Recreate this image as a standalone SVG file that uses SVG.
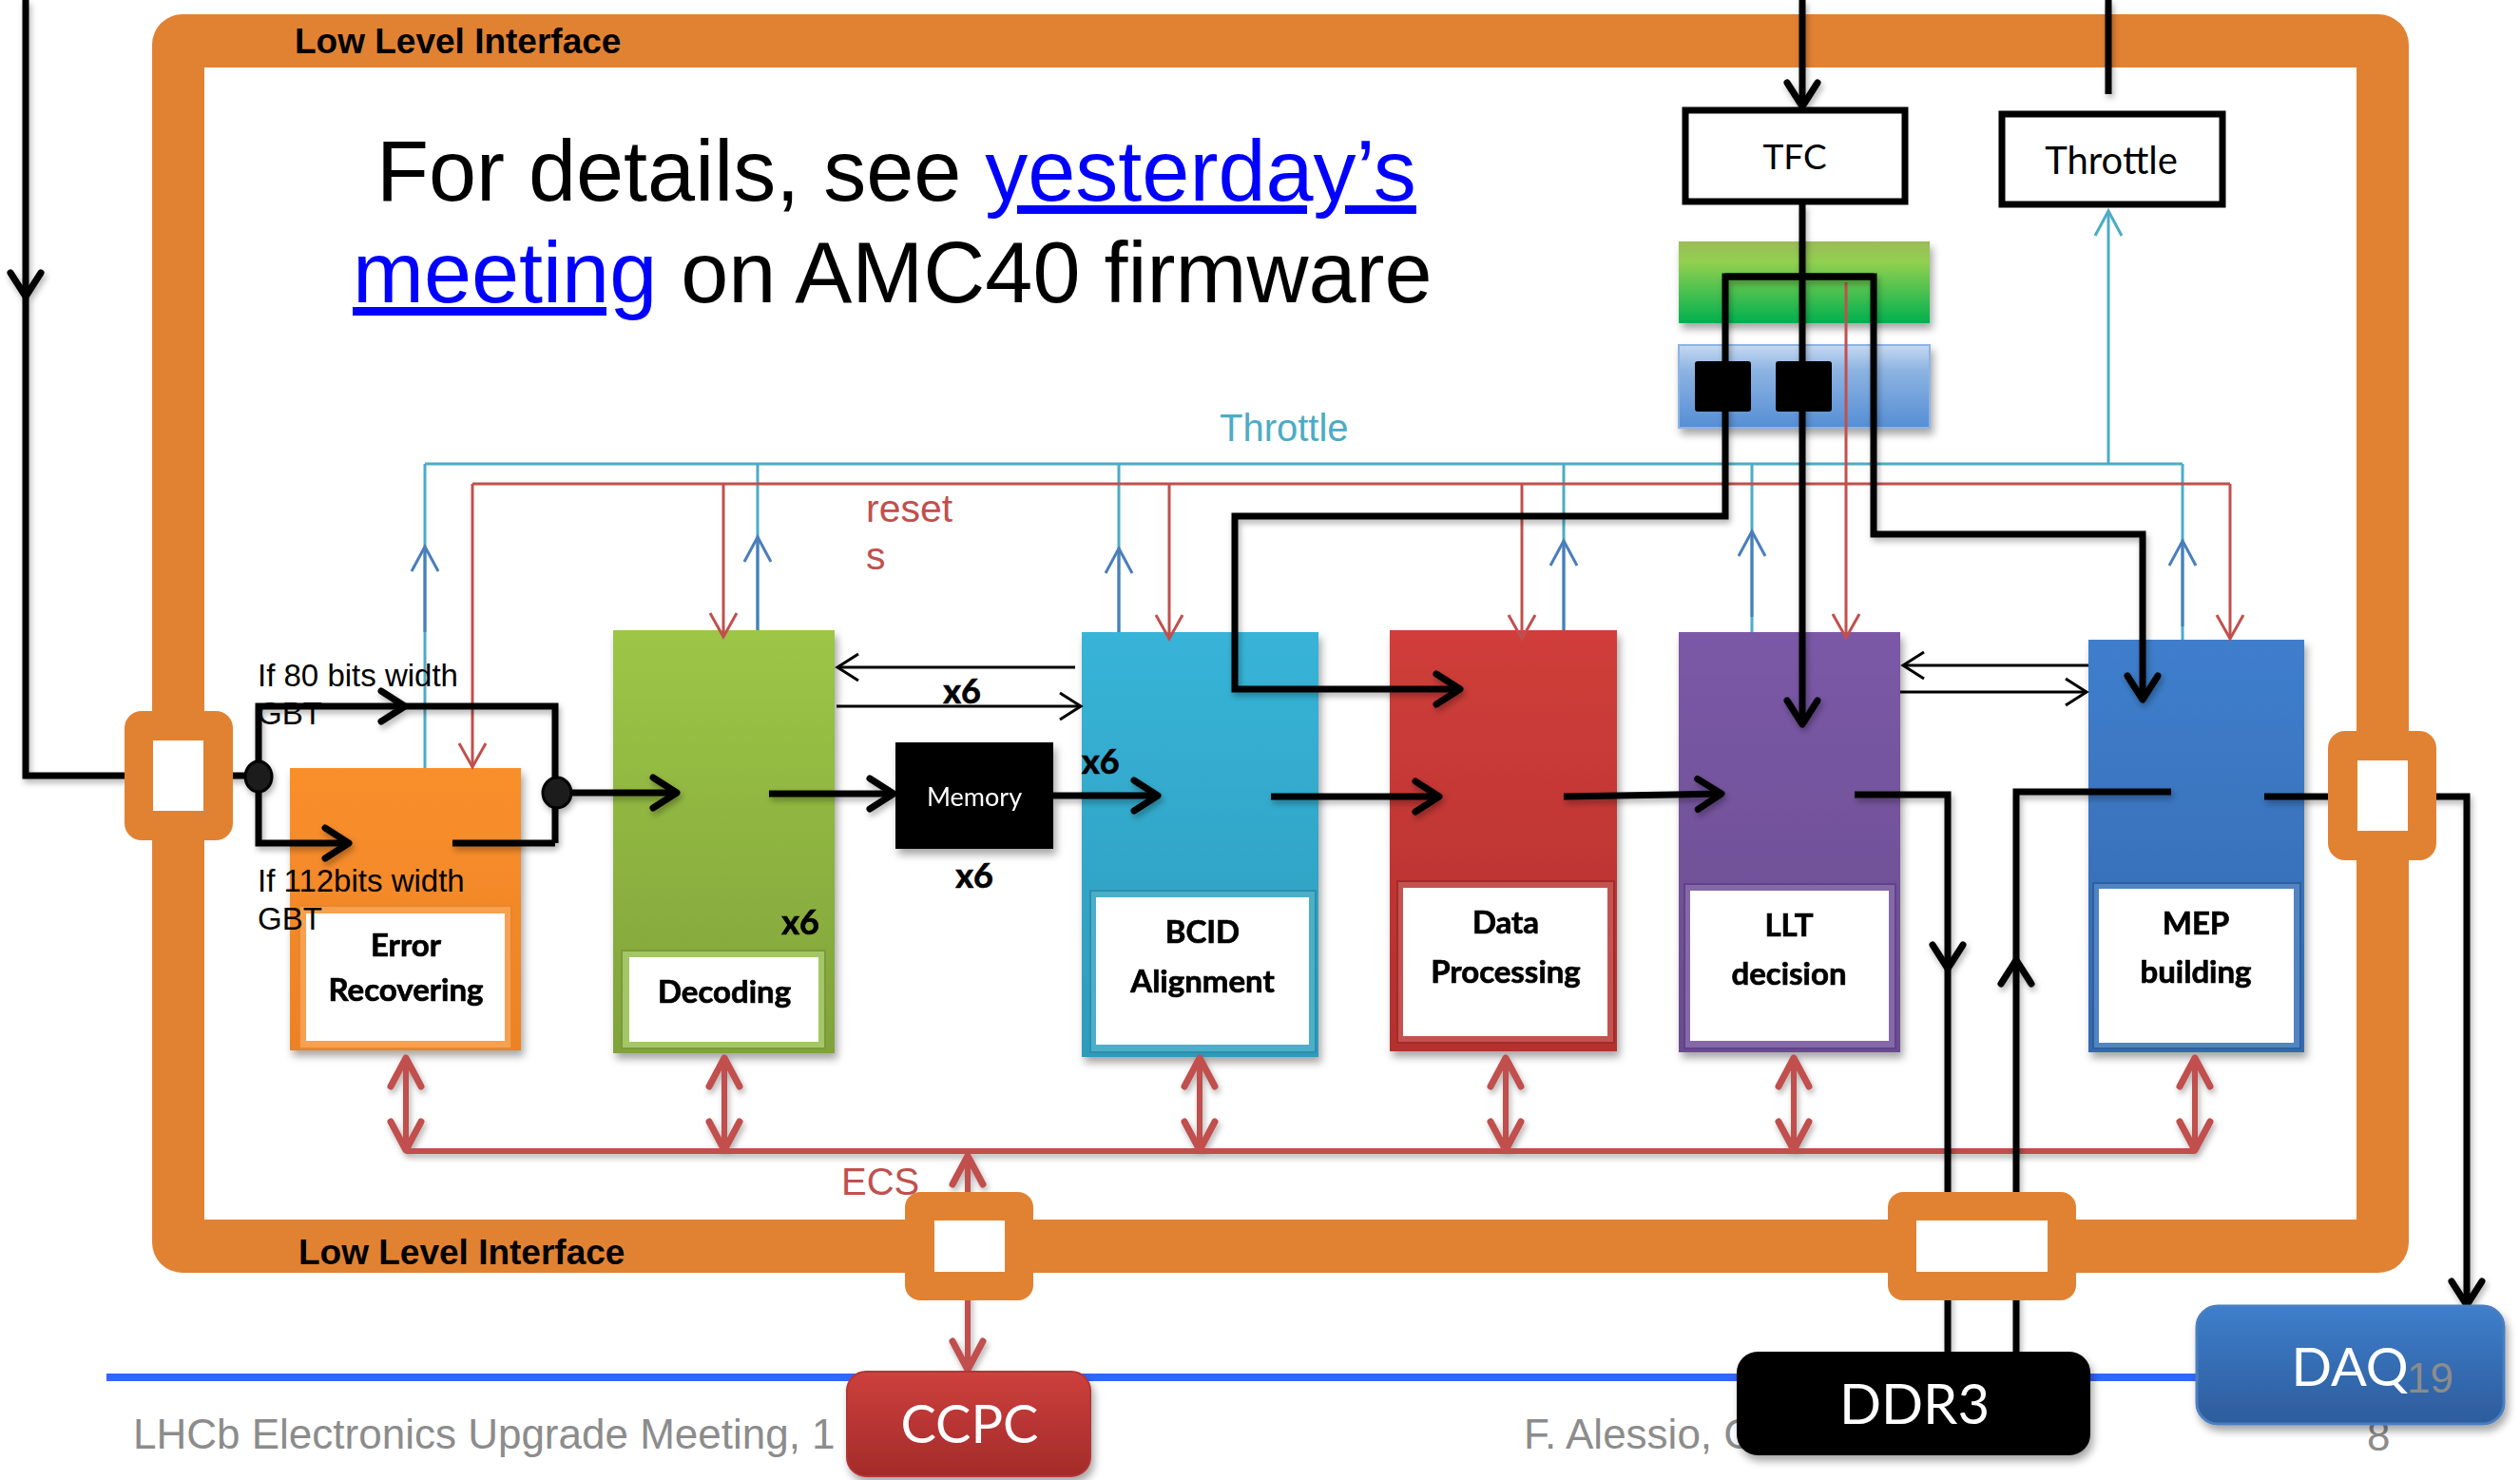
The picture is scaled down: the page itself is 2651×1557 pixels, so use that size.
<svg xmlns="http://www.w3.org/2000/svg" width="2651" height="1557" viewBox="0 0 2651 1557">
  <style>
    .arial { font-family: "Liberation Sans", Arial, sans-serif; }
    .cal { font-family: Lato, "Open Sans", sans-serif; }
    .lbl { font-family: Lato, "Open Sans", sans-serif; font-weight: bold; font-size: 33px; text-anchor: middle; fill: #000; stroke: #000; stroke-width: 0.7px; }
    .x6 { font-family: Lato, "Open Sans", sans-serif; font-weight: bold; font-size: 36px; fill: #000; stroke: #000; stroke-width: 0.7px; }
    .thick { fill: none; stroke: #000; stroke-width: 7; stroke-linejoin: miter; }
    .thin { fill: none; stroke: #000; stroke-width: 3; }
    .cyan { fill: none; stroke: #4BACC6; stroke-width: 3; }
    .blue { fill: none; stroke: #4A7EBB; stroke-width: 3; }
    .red { fill: none; stroke: #C0504D; stroke-width: 3; }
    .ecs { fill: none; stroke: #C0504D; stroke-width: 6; }
    .ring { fill: #E18233; }
    .hole { fill: #fff; }
    .white { fill: #fff; }
    .foot { font-family: "Liberation Sans", Arial, sans-serif; font-size: 44px; fill: #8C8C8C; }
  </style>
  <defs>
    <filter id="sh" x="-20%" y="-20%" width="140%" height="140%">
      <feDropShadow dx="3" dy="6" stdDeviation="4" flood-color="#000" flood-opacity="0.35"/>
    </filter>
    <filter id="lsh" filterUnits="userSpaceOnUse" x="0" y="0" width="2651" height="1557">
      <feDropShadow dx="2" dy="4" stdDeviation="3" flood-color="#000" flood-opacity="0.3"/>
    </filter>
    <linearGradient id="gErr" x1="0" y1="0" x2="0" y2="1"><stop offset="0" stop-color="#F98F2C"/><stop offset="1" stop-color="#EC8224"/></linearGradient>
    <linearGradient id="gDec" x1="0" y1="0" x2="0" y2="1"><stop offset="0" stop-color="#9DC646"/><stop offset="1" stop-color="#80A23B"/></linearGradient>
    <linearGradient id="gBcid" x1="0" y1="0" x2="0" y2="1"><stop offset="0" stop-color="#37B4D8"/><stop offset="1" stop-color="#2E9BBB"/></linearGradient>
    <linearGradient id="gDp" x1="0" y1="0" x2="0" y2="1"><stop offset="0" stop-color="#D03E3A"/><stop offset="1" stop-color="#B2302F"/></linearGradient>
    <linearGradient id="gLlt" x1="0" y1="0" x2="0" y2="1"><stop offset="0" stop-color="#7B59A7"/><stop offset="1" stop-color="#6A4C8F"/></linearGradient>
    <linearGradient id="gMep" x1="0" y1="0" x2="0" y2="1"><stop offset="0" stop-color="#3F7ECC"/><stop offset="1" stop-color="#3469AF"/></linearGradient>
    <linearGradient id="gGreen" x1="0" y1="0" x2="0" y2="1"><stop offset="0" stop-color="#9BBB59"/><stop offset="0.25" stop-color="#92D050"/><stop offset="1" stop-color="#00B050"/></linearGradient>
    <linearGradient id="gLblue" x1="0" y1="0" x2="0" y2="1"><stop offset="0" stop-color="#C6D9F1"/><stop offset="0.3" stop-color="#8DB4E2"/><stop offset="1" stop-color="#558ED5"/></linearGradient>
    <linearGradient id="gDaq" x1="0" y1="0" x2="0" y2="1"><stop offset="0" stop-color="#3E7ECB"/><stop offset="1" stop-color="#2D5C9C"/></linearGradient>
    <linearGradient id="gCcpc" x1="0" y1="0" x2="0" y2="1"><stop offset="0" stop-color="#CD403D"/><stop offset="1" stop-color="#A32B2A"/></linearGradient>
    <marker id="ahK" markerUnits="userSpaceOnUse" markerWidth="60" markerHeight="60" orient="auto-start-reverse" style="overflow:visible">
      <path d="M-25,-16 L0,0 L-25,16" fill="none" stroke="#000" stroke-width="7" stroke-linecap="round" stroke-linejoin="round"/>
    </marker>
    <marker id="ahk" markerUnits="userSpaceOnUse" markerWidth="40" markerHeight="40" orient="auto-start-reverse" style="overflow:visible">
      <path d="M-22,-14 L0,0 L-22,14" fill="none" stroke="#000" stroke-width="3"/>
    </marker>
    <marker id="ahC" markerUnits="userSpaceOnUse" markerWidth="40" markerHeight="40" orient="auto-start-reverse" style="overflow:visible">
      <path d="M-26,-14 L0,0 L-26,14" fill="none" stroke="#4BACC6" stroke-width="3"/>
    </marker>
    <marker id="ahB" markerUnits="userSpaceOnUse" markerWidth="40" markerHeight="40" orient="auto-start-reverse" style="overflow:visible">
      <path d="M-26,-14 L0,0 L-26,14" fill="none" stroke="#4A7EBB" stroke-width="3"/>
    </marker>
    <marker id="ahR" markerUnits="userSpaceOnUse" markerWidth="40" markerHeight="40" orient="auto-start-reverse" style="overflow:visible">
      <path d="M-25,-14 L0,0 L-25,14" fill="none" stroke="#C0504D" stroke-width="3"/>
    </marker>
    <marker id="ahE" markerUnits="userSpaceOnUse" markerWidth="60" markerHeight="60" orient="auto-start-reverse" style="overflow:visible">
      <path d="M-30,-16 L0,0 L-30,16" fill="none" stroke="#C0504D" stroke-width="7" stroke-linecap="round" stroke-linejoin="round"/>
    </marker>
  </defs>

  <rect width="2651" height="1557" fill="#fff"/>

  <!-- Low level interface frame -->
  <g id="frame">
    <path fill="#E18233" fill-rule="evenodd" d="M192,15 H2502 A32,32 0 0 1 2534,47 V1307 A32,32 0 0 1 2502,1339 H192 A32,32 0 0 1 160,1307 V47 A32,32 0 0 1 192,15 Z M215,71 V1283 H2479 V71 Z"/>
    <text class="arial" x="310" y="56" font-size="37" font-weight="bold">Low Level Interface</text>
    <text class="arial" x="314" y="1330" font-size="37" font-weight="bold">Low Level Interface</text>
  </g>

  <!-- headline -->
  <g id="headline" class="arial" font-size="90">
    <text x="396" y="211">For details, see <tspan fill="#0000FF" text-decoration="underline">yesterday’s</tspan></text>
    <text x="371" y="318"><tspan fill="#0000FF" text-decoration="underline">meeting</tspan> on AMC40 firmware</text>
  </g>

  <!-- footer -->
  <g id="footer">
    <rect x="112" y="1445" width="2200" height="8" fill="#3366FF"/>
    <text class="foot" x="140" y="1524">LHCb Electronics Upgrade Meeting, 1</text>
    <text class="foot" x="1603" y="1524">F. Alessio, C</text>
    <text class="foot" x="2490" y="1526">8</text>
  </g>

  <!-- processing blocks -->
  <g id="error-recovering" filter="url(#sh)">
    <rect x="305" y="808" width="243" height="297" fill="url(#gErr)"/>
    <rect x="315" y="953" width="223" height="150" fill="#F7A04F" stroke="#E8862E" stroke-width="2"/>
    <rect x="322" y="961" width="209" height="134" class="white"/>
    <text class="lbl" x="427" y="1006">Error</text>
    <text class="lbl" x="427" y="1053">Recovering</text>
  </g>
  <g id="decoding" filter="url(#sh)">
    <rect x="645" y="663" width="233" height="445" fill="url(#gDec)"/>
    <rect x="654" y="1000" width="214" height="103" fill="#A3C766" stroke="#7A9A3A" stroke-width="2"/>
    <rect x="662" y="1007" width="199" height="89" class="white"/>
    <text class="lbl" x="762" y="1055">Decoding</text>
    <text class="x6" x="862" y="983" text-anchor="end">x6</text>
  </g>
  <g id="memory" filter="url(#sh)">
    <rect x="942" y="781" width="166" height="112" fill="#000"/>
    <text class="cal" x="1025" y="848" font-size="27" fill="#fff" text-anchor="middle">Memory</text>
  </g>
  <g id="bcid-alignment" filter="url(#sh)">
    <rect x="1138" y="665" width="249" height="447" fill="url(#gBcid)"/>
    <rect x="1147" y="937" width="237" height="170" fill="#4DAEC8" stroke="#2B8FAD" stroke-width="2"/>
    <rect x="1153" y="944" width="224" height="155" class="white"/>
    <text class="lbl" x="1265" y="992">BCID</text>
    <text class="lbl" x="1265" y="1044">Alignment</text>
  </g>
  <g id="data-processing" filter="url(#sh)">
    <rect x="1462" y="663" width="239" height="443" fill="url(#gDp)"/>
    <rect x="1470" y="927" width="228" height="170" fill="#C4524F" stroke="#A32C2B" stroke-width="2"/>
    <rect x="1476" y="934" width="215" height="156" class="white"/>
    <text class="lbl" x="1584" y="982">Data</text>
    <text class="lbl" x="1584" y="1034">Processing</text>
  </g>
  <g id="llt-decision" filter="url(#sh)">
    <rect x="1766" y="665" width="233" height="442" fill="url(#gLlt)"/>
    <rect x="1772" y="930" width="222" height="173" fill="#8468A8" stroke="#604388" stroke-width="2"/>
    <rect x="1778" y="937" width="209" height="158" class="white"/>
    <text class="lbl" x="1882" y="985">LLT</text>
    <text class="lbl" x="1882" y="1036">decision</text>
  </g>
  <g id="mep-building" filter="url(#sh)">
    <rect x="2197" y="673" width="227" height="434" fill="url(#gMep)"/>
    <rect x="2202" y="929" width="218" height="174" fill="#5184C0" stroke="#2F5F9E" stroke-width="2"/>
    <rect x="2208" y="935" width="205" height="162" class="white"/>
    <text class="lbl" x="2310" y="983">MEP</text>
    <text class="lbl" x="2310" y="1034">building</text>
  </g>

  <!-- TFC fan-out bars -->
  <g id="tfc-bars" filter="url(#sh)">
    <rect x="1766" y="254" width="264" height="86" fill="url(#gGreen)"/>
    <rect x="1766" y="363" width="264" height="87" fill="url(#gLblue)" stroke="#8EB4E3" stroke-width="2"/>
    <rect x="1783" y="380" width="59" height="53" rx="3" fill="#000"/>
    <rect x="1868" y="380" width="59" height="53" rx="3" fill="#000"/>
  </g>

  <!-- connectors -->
  <g id="connectors">
    <!-- throttle bus -->
    <path class="cyan" d="M447,488 H2296 M447,808 V488 M797,663 V488 M1177,665 V488 M1645,663 V488 M1843,665 V488 M2296,673 V488"/>
    <path class="cyan" d="M2218,488 V222" marker-end="url(#ahC)"/>
    <path class="blue" d="M447,665 V575" marker-end="url(#ahB)"/>
    <path class="blue" d="M797,663 V565" marker-end="url(#ahB)"/>
    <path class="blue" d="M1177,665 V577" marker-end="url(#ahB)"/>
    <path class="blue" d="M1645,663 V569" marker-end="url(#ahB)"/>
    <path class="blue" d="M1843,649 V559" marker-end="url(#ahB)"/>
    <path class="blue" d="M2296,659 V569" marker-end="url(#ahB)"/>
    <!-- reset bus -->
    <path class="red" d="M497,509 H2346"/>
    <path class="red" d="M497,509 V807" marker-end="url(#ahR)"/>
    <path class="red" d="M761,509 V670" marker-end="url(#ahR)"/>
    <path class="red" d="M1230,509 V672" marker-end="url(#ahR)"/>
    <path class="red" d="M1601,509 V672" marker-end="url(#ahR)"/>
    <path class="red" d="M1942,297 V671" marker-end="url(#ahR)"/>
    <path class="red" d="M2346,509 V672" marker-end="url(#ahR)"/>
    <!-- ECS bus -->
    <g filter="url(#lsh)">
      <path class="ecs" d="M427,1211 H2309" stroke-width="8"/>
      <path class="ecs" d="M427,1210 V1113" marker-start="url(#ahE)" marker-end="url(#ahE)"/>
      <path class="ecs" d="M762,1210 V1113" marker-start="url(#ahE)" marker-end="url(#ahE)"/>
      <path class="ecs" d="M1262,1210 V1113" marker-start="url(#ahE)" marker-end="url(#ahE)"/>
      <path class="ecs" d="M1584,1210 V1113" marker-start="url(#ahE)" marker-end="url(#ahE)"/>
      <path class="ecs" d="M1887,1210 V1113" marker-start="url(#ahE)" marker-end="url(#ahE)"/>
      <path class="ecs" d="M2309,1210 V1113" marker-start="url(#ahE)" marker-end="url(#ahE)"/>
      <path class="ecs" d="M1018,1441 V1216" marker-start="url(#ahE)" marker-end="url(#ahE)"/>
    </g>
    <!-- block-to-block links -->
    <path class="thin" d="M1131,702 H881" marker-end="url(#ahk)"/>
    <path class="thin" d="M880,743 H1137" marker-end="url(#ahk)"/>
    <path class="thin" d="M2197,700 H2002" marker-end="url(#ahk)"/>
    <path class="thin" d="M1999,728 H2195" marker-end="url(#ahk)"/>
    <!-- data path -->
    <g filter="url(#lsh)">
      <path class="thick" d="M27,0 V312" stroke-width="6" marker-end="url(#ahK)"/>
      <path class="thick" d="M27,312 V816 H272" stroke-width="6"/>
      <path class="thick" d="M272,817 V743 H426" marker-end="url(#ahK)"/>
      <path class="thick" d="M426,743 H584 V887"/>
      <path class="thick" d="M272,817 V887 H367" marker-end="url(#ahK)"/>
      <path class="thick" d="M476,887 H584"/>
      <path class="thick" d="M586,834 H712" marker-end="url(#ahK)"/>
      <path class="thick" d="M809,835 H940" marker-end="url(#ahK)"/>
      <path class="thick" d="M1108,837 H1218" marker-end="url(#ahK)"/>
      <path class="thick" d="M1337,838 H1514" marker-end="url(#ahK)"/>
      <path class="thick" d="M1645,838 L1811,835" marker-end="url(#ahK)"/>
      <path class="thick" d="M1951,836 H2049 V1019" marker-end="url(#ahK)"/>
      <path class="thick" d="M2049,1019 V1422"/>
      <path class="thick" d="M2121,1422 V1010" marker-end="url(#ahK)"/>
      <path class="thick" d="M2121,1010 V833 H2284"/>
      <path class="thick" d="M2382,838 H2595 V1373" stroke-width="6" marker-end="url(#ahK)"/>
      <!-- timing and fast control -->
      <path class="thick" d="M1896,0 V112" stroke-width="6" marker-end="url(#ahK)"/>
      <path class="thick" d="M2218,0 V99" stroke-width="6"/>
      <path class="thick" d="M1896,215 V762" marker-end="url(#ahK)"/>
      <path class="thick" d="M1971,291 H1815 V543 H1299 V725 H1536" marker-end="url(#ahK)"/>
      <path class="thick" d="M1815,291 H1971 V562 H2254 V736" marker-end="url(#ahK)"/>
      <ellipse cx="272" cy="817" rx="14" ry="16" fill="#1a1a1a" stroke="#000" stroke-width="3"/>
      <ellipse cx="586" cy="834" rx="15" ry="16" fill="#1a1a1a" stroke="#000" stroke-width="3"/>
    </g>
  </g>

  <!-- labels on the buses -->
  <g id="bus-labels" class="arial">
    <text x="1283" y="464" font-size="40" fill="#4BACC6">Throttle</text>
    <text x="911" y="549" font-size="41" fill="#C0504D">reset</text>
    <text x="911" y="599" font-size="41" fill="#C0504D">s</text>
    <text x="885" y="1257" font-size="40" fill="#C0504D">ECS</text>
    <text x="271" y="722" font-size="33">If 80 bits width</text>
    <text x="271" y="762" font-size="33">GBT</text>
    <text x="271" y="938" font-size="33">If 112bits width</text>
    <text x="271" y="978" font-size="33">GBT</text>
  </g>
  <g id="multiplicity">
    <text class="x6" x="1012" y="740" text-anchor="middle">x6</text>
    <text class="x6" x="1025" y="934" text-anchor="middle">x6</text>
    <text class="x6" x="1138" y="814">x6</text>
  </g>

  <!-- interface ports on the frame -->
  <g id="port-left"><rect class="ring" x="131" y="748" width="114" height="136" rx="18"/><rect class="hole" x="161" y="779" width="53" height="74"/></g>
  <g id="port-right"><rect class="ring" x="2449" y="769" width="114" height="136" rx="18"/><rect class="hole" x="2480" y="800" width="53" height="74"/></g>
  <g id="port-ecs"><rect class="ring" x="952" y="1254" width="135" height="114" rx="16"/><rect class="hole" x="983" y="1284" width="74" height="54"/></g>
  <g id="port-ddr3"><rect class="ring" x="1986" y="1254" width="198" height="114" rx="16"/><rect class="hole" x="2016" y="1284" width="138" height="54"/></g>

  <!-- external boxes -->
  <g id="tfc">
    <rect x="1773" y="116" width="231" height="96" fill="#fff" stroke="#000" stroke-width="7"/>
    <text class="cal" x="1888" y="178" font-size="37" text-anchor="middle">TFC</text>
  </g>
  <g id="throttle">
    <rect x="2106" y="120" width="232" height="95" fill="#fff" stroke="#000" stroke-width="7"/>
    <text class="cal" x="2221" y="183" font-size="40" text-anchor="middle">Throttle</text>
  </g>
  <g id="ccpc" filter="url(#sh)">
    <rect x="891" y="1443" width="256" height="110" rx="20" fill="url(#gCcpc)" stroke="#B23634" stroke-width="2"/>
    <text class="cal" x="1020" y="1518" font-size="56" fill="#fff" text-anchor="middle">CCPC</text>
  </g>
  <g id="ddr3" filter="url(#sh)">
    <rect x="1827" y="1422" width="372" height="109" rx="22" fill="#000"/>
    <text class="cal" x="2014" y="1498" font-size="58" fill="#fff" text-anchor="middle">DDR3</text>
  </g>
  <g id="daq" filter="url(#sh)">
    <rect x="2311" y="1374" width="323" height="124" rx="22" fill="url(#gDaq)" stroke="#4A7FC0" stroke-width="3"/>
    <text class="cal" x="2472" y="1458" font-size="56" fill="#fff" text-anchor="middle">DAQ</text>
  </g>
  <text class="foot" x="2532" y="1465" font-size="42" fill="#7F7F7F">19</text>
</svg>
